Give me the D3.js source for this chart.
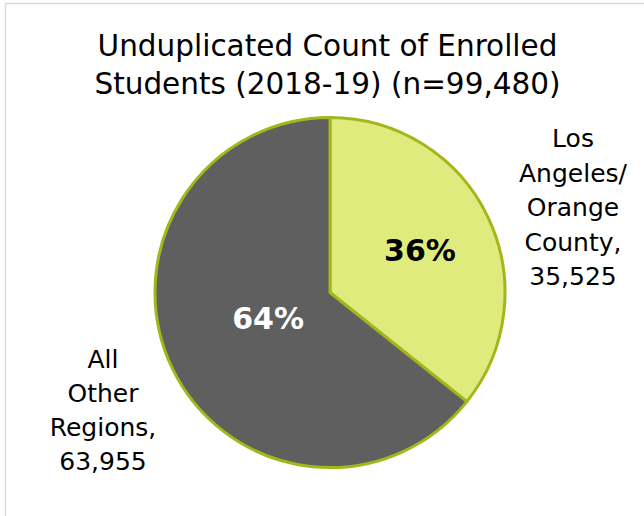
<!DOCTYPE html>
<html>
<head>
<meta charset="utf-8">
<script src="https://cdn.jsdelivr.net/npm/d3@7"></script>
<style>
  body { margin: 0; background: #fff; }
  text { font-family: "Century Gothic", "DejaVu Sans", sans-serif; fill: #000; }
</style>
</head>
<body>
<div id="pie"></div>
<script>
const width = 644;
const height = 516;

const titleLines = ["Unduplicated Count of Enrolled", "Students (2018-19) (n=99,480)"];
const regions = ["Los Angeles/ Orange County", "All Other Regions"];
const counts = [35525, 63955];
const labelLines = [["Los", "Angeles/", "Orange", "County,", "35,525"], ["All", "Other", "Regions,", "63,955"]];
const fills = ["#e0eb7e", "#5f5f5f"];
const pctColors = ["#000", "#fff"];

const cx = 330, cy = 292.5, radius = 175;

const data = regions.map((r, i) => ({ region: r, count: counts[i], lines: labelLines[i], i: i }));
const total = d3.sum(counts);

const svg = d3.select('#pie')
    .append('svg')
    .attr('width', width)
    .attr('height', height);

// light frame round the chart area
svg.append('rect')
    .attr('x', 5.5)
    .attr('y', 3.5)
    .attr('width', width + 10)
    .attr('height', height + 10)
    .attr('fill', 'none')
    .attr('stroke', '#d9d9d9')
    .attr('stroke-width', 1.5);

svg.append('text')
    .attr('text-anchor', 'middle')
    .style('font-size', '29.5px')
    .selectAll('tspan')
    .data(titleLines)
    .enter()
    .append('tspan')
    .attr('x', 327.5)
    .attr('y', (d, i) => 56 + i * 37.5)
    .text(d => d);

const pie = d3.pie().sort(null).value(d => d.count);
const arcs = pie(data);

const arc = d3.arc().innerRadius(0).outerRadius(radius);

const g = svg.append('g')
    .attr('transform', `translate(${cx},${cy})`);

g.selectAll('path')
    .data(arcs)
    .enter()
    .append('path')
    .attr('d', arc)
    .attr('fill', d => fills[d.data.i])
    .attr('stroke', '#a3b71b')
    .attr('stroke-width', 3)
    .attr('stroke-linejoin', 'round');

// percentage labels inside slices (radius fraction, angle nudge in degrees)
const pctRadius = [0.569, 0.383];
const pctNudge = [0.4, 3.3];
g.selectAll('.pct')
    .data(arcs)
    .enter()
    .append('text')
    .attr('class', 'pct')
    .attr('transform', d => {
        const r = radius * pctRadius[d.data.i];
        const a = (d.startAngle + d.endAngle) / 2 + pctNudge[d.data.i] * Math.PI / 180;
        return `translate(${Math.sin(a) * r},${-Math.cos(a) * r})`;
    })
    .attr('text-anchor', 'middle')
    .attr('dy', '0.36em')
    .style('font-size', '30px')
    .style('font-weight', 'bold')
    .style('fill', d => pctColors[d.data.i])
    .text(d => Math.round(d.data.count / total * 100) + '%');

// category labels outside the pie
const outer = [{ x: 243, y: -85 }, { x: -227, y: 118 }];
const lineGap = [34.5, 34];
const cat = g.selectAll('.cat')
    .data(arcs)
    .enter()
    .append('text')
    .attr('class', 'cat')
    .attr('text-anchor', 'middle')
    .style('font-size', '25px');

cat.selectAll('tspan')
    .data(d => d.data.lines.map((l, k) => ({ l: l, k: k, n: d.data.lines.length, i: d.data.i })))
    .enter()
    .append('tspan')
    .attr('x', d => outer[d.i].x)
    .attr('y', d => outer[d.i].y + (d.k - (d.n - 1) / 2) * lineGap[d.i])
    .attr('dy', '0.35em')
    .text(d => d.l);
</script>
</body>
</html>
